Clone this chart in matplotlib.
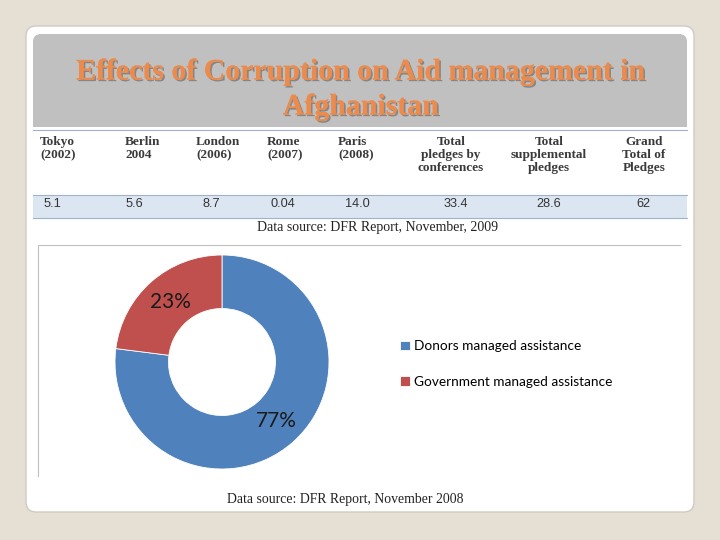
import matplotlib
matplotlib.use('Agg')
import matplotlib.pyplot as plt
from matplotlib.patches import FancyBboxPatch, Rectangle
import matplotlib.patheffects as pe

#===================
# Datos
#===================
title_lines = ['Effects of Corruption on Aid management in', 'Afghanistan']
table_headers = ['Tokyo\n(2002)', 'Berlin\n2004', 'London\n(2006)', 'Rome\n(2007)', 'Paris\n(2008)',
                 'Total\npledges by\nconferences', 'Total\nsupplemental\npledges', 'Grand\nTotal of\nPledges']
table_values = ['5.1', '5.6', '8.7', '0.04', '14.0', '33.4', '28.6', '62']
source_table = 'Data source: DFR Report, November, 2009'

aid_labels = ['Donors managed assistance', 'Government managed assistance']
aid_shares = [77, 23]
aid_colors = ['#4f81bd', '#c0504d']
source_chart = 'Data source: DFR Report, November 2008'

#===================
# Lienzo
#===================
W, H = 720, 540
fig = plt.figure(figsize=(7.2, 5.4), dpi=100)
fig.patch.set_facecolor('#e6dfd4')
bg = fig.add_axes([0, 0, 1, 1])
bg.set_xlim(0, W)
bg.set_ylim(H, 0)
bg.axis('off')

# tarjeta blanca
bg.add_patch(FancyBboxPatch((26, 26), 668, 486, boxstyle='round,pad=0,rounding_size=10',
                            fc='white', ec='#cfcac3', lw=1))
# banda del titulo
bg.add_patch(FancyBboxPatch((33, 34), 654, 92, boxstyle='round,pad=0,rounding_size=8',
                            fc='#c0c0c0', ec='none'))
bg.add_patch(Rectangle((33, 100), 654, 27, fc='#c0c0c0', ec='none'))

shadow = [pe.withSimplePatchShadow(offset=(1.2, -1.2), shadow_rgbFace='#6e6e6e', alpha=0.7), pe.Normal()]
for i, line in enumerate(title_lines):
    bg.text(361, 72 + i * 35, line, ha='center', va='center', fontsize=21.5, fontweight='bold',
            family='Liberation Serif', color='#ec8b4c', path_effects=shadow)

#===================
# Tabla
#===================
bg.plot([33, 687], [130, 130], color='#9fb3c8', lw=0.8)
bg.add_patch(Rectangle((33, 195), 654, 23, fc='#dce6f2', ec='none'))
bg.plot([33, 687], [195, 195], color='#9fb3c8', lw=0.8)
bg.plot([33, 687], [218, 218], color='#9fb3c8', lw=0.8)

head_x = [40, 125, 196, 267, 338, 451, 549, 644]
head_ha = ['left'] * 5 + ['center'] * 3
val_x = [52, 134, 211, 283, 357, 456, 549, 643]
for hx, ha, h in zip(head_x, head_ha, table_headers):
    bg.text(hx, 136, h, ha=ha, va='top', fontsize=9.5, fontweight='bold', family='Liberation Serif',
            color='#3a3a3a', linespacing=1.1)
for vx, v in zip(val_x, table_values):
    bg.text(vx, 204, v, ha='center', va='center', fontsize=9.2, family='Liberation Sans', color='#333333')
bg.text(378, 227, source_table, ha='center', va='center', fontsize=10, family='Liberation Serif', color='#222222')

# marco del grafico
bg.plot([38, 38, 680], [476, 245, 245], color='#bfbfbf', lw=0.8)

#===================
# Dona
#===================
cx, cy, r = 222, 362, 107
ax = fig.add_axes([(cx - r) / W, (H - cy - r) / H, 2 * r / W, 2 * r / H])
wedges, _ = ax.pie(aid_shares, colors=aid_colors, startangle=90, counterclock=False,
                   wedgeprops=dict(width=0.5, edgecolor='white', linewidth=0.6))
ax.set_xlim(-1, 1)
ax.set_ylim(-1, 1)

pct_pos = [(276, 421), (170, 302)]
for (px, py), s in zip(pct_pos, aid_shares):
    ax.text(px, py, f'{s}%', ha='center', va='center', fontsize=15, family='Lato',
            color='#1a1a1a', transform=bg.transData, clip_on=False)

fig.legend(wedges, aid_labels, loc='center left', bbox_to_anchor=(388 / W, 1 - 364 / H), frameon=False,
           handlelength=0.7, handleheight=0.7, handletextpad=0.3, labelspacing=1.7,
           prop={'family': 'Lato', 'size': 9.8})

bg.text(345, 499, source_chart, ha='center', va='center', fontsize=9.9, family='Liberation Serif', color='#222222')

fig.savefig('out.png', dpi=100, facecolor=fig.get_facecolor())
